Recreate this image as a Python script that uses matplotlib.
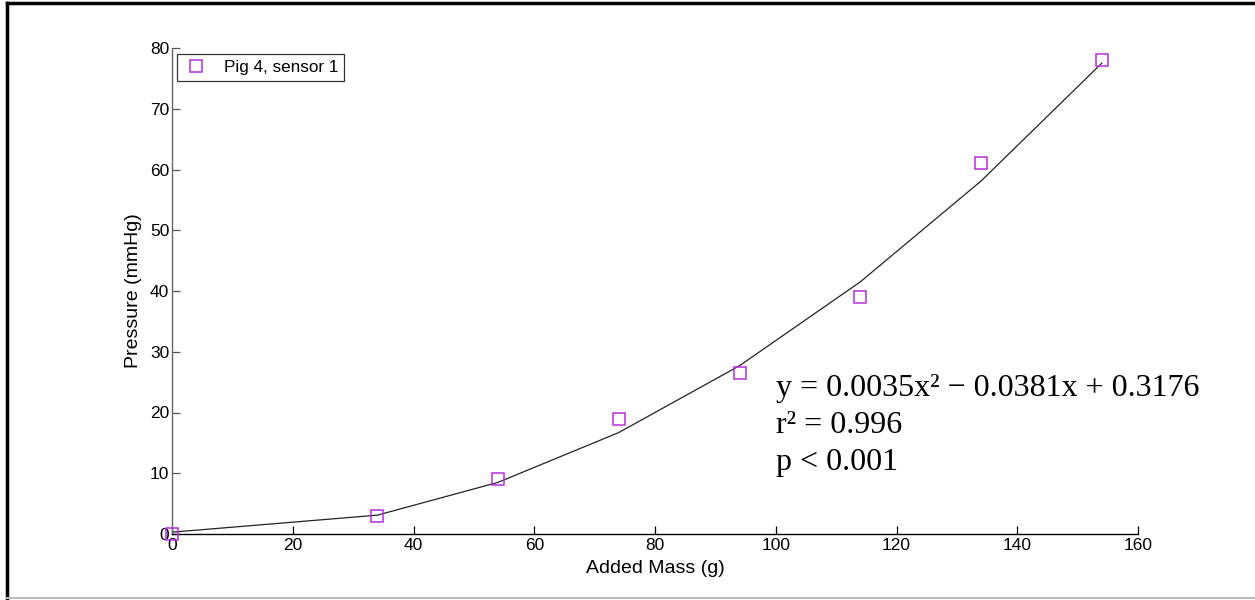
import matplotlib
matplotlib.use("Agg")
import matplotlib.pyplot as plt
from matplotlib.lines import Line2D

# Data
mass = [0, 34, 54, 74, 94, 114, 134, 154]
pressure = [0.0, 3.0, 9.0, 19.0, 26.5, 39.0, 61.0, 78.0]
fit_pressure = [0.3, 3.1, 8.5, 16.7, 27.7, 41.5, 58.1, 77.5]
x_ticks = [0, 20, 40, 60, 80, 100, 120, 140, 160]
y_ticks = [0, 10, 20, 30, 40, 50, 60, 70, 80]

plt.rcParams['font.family'] = ['Liberation Sans', 'DejaVu Sans']

fig = plt.figure(figsize=(12.55, 6.0), dpi=100)
ax = fig.add_axes([172/1255, 1-534/600, (1138-172)/1255, (534-48)/600])

ax.plot(mass, fit_pressure, color='#222222', lw=0.9, zorder=2)
ax.plot(mass, pressure, linestyle='none', marker='s', markersize=8.5,
        markerfacecolor='none', markeredgecolor='#b82ee0', markeredgewidth=1.1,
        clip_on=False, zorder=3, label='Pig 4, sensor 1')

ax.set_xlim(0, 160)
ax.set_ylim(0, 80)
ax.set_xticks(x_ticks)
ax.set_yticks(y_ticks)
ax.tick_params(direction='in', length=6, width=0.9, labelsize=12.5, pad=3)
ax.tick_params(axis='y', colors='#555555', labelcolor='black', pad=2)
ax.tick_params(axis='x', colors='black', labelcolor='black')
for s in ['top', 'right']:
    ax.spines[s].set_visible(False)
ax.spines['left'].set_color('#666666')
ax.spines['bottom'].set_color('black')
ax.spines['left'].set_linewidth(1.0)
ax.spines['bottom'].set_linewidth(1.0)

ax.set_xlabel('Added Mass (g)', fontsize=14, labelpad=5)
ax.set_ylabel('Pressure (mmHg)', fontsize=14, labelpad=6)

leg = ax.legend(loc='upper left', bbox_to_anchor=(0.005, 0.988), borderaxespad=0,
                fontsize=12.3, frameon=True, fancybox=False, edgecolor='black',
                borderpad=0.35, handletextpad=0.8, handlelength=1.6)
leg.get_frame().set_linewidth(0.9)

serif = ['Liberation Serif', 'DejaVu Serif']
ax.text(0.625, 0.300, 'y = 0.0035x\u00b2 \u2212 0.0381x + 0.3176', transform=ax.transAxes,
        fontsize=23, family=serif, va='center', ha='left')
ax.text(0.625, 0.224, 'r\u00b2 = 0.996', transform=ax.transAxes,
        fontsize=23, family=serif, va='center', ha='left')
ax.text(0.625, 0.148, 'p < 0.001', transform=ax.transAxes,
        fontsize=23, family=serif, va='center', ha='left')

# figure frame
fig.add_artist(Line2D([7/1255, 7/1255], [0, 1-3/600], transform=fig.transFigure, color='black', lw=2.5))
fig.add_artist(Line2D([7/1255, 1], [1-3/600, 1-3/600], transform=fig.transFigure, color='black', lw=2.5))
fig.add_artist(Line2D([7/1255, 1], [2/600, 2/600], transform=fig.transFigure, color='#bbbbbb', lw=1.5))

fig.savefig('out.png', dpi=100)
